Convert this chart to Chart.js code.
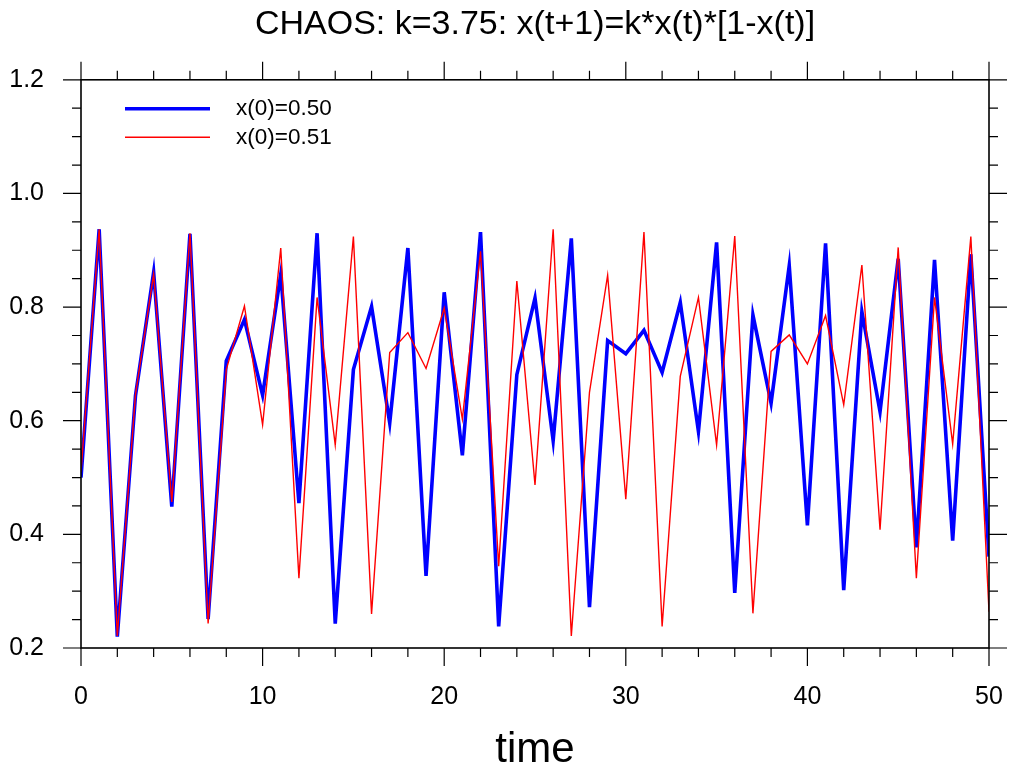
<!DOCTYPE html>
<html>
<head>
<meta charset="utf-8">
<script src="https://cdn.jsdelivr.net/npm/chart.js@4/dist/chart.umd.min.js"></script>
<style>
  body { margin: 0; background: #fff; }
  #box { width: 1016px; height: 776px; }
</style>
</head>
<body>
<div id="box"><canvas id="chaosChart"></canvas></div>
<script>
const steps = [0, 1, 2, 3, 4, 5, 6, 7, 8, 9, 10, 11, 12, 13, 14, 15, 16, 17, 18, 19, 20,
  21, 22, 23, 24, 25, 26, 27, 28, 29, 30, 31, 32, 33, 34, 35, 36, 37, 38, 39, 40,
  41, 42, 43, 44, 45, 46, 47, 48, 49, 50];

// x(0)=0.50
const xStart50 = [0.500, 0.937, 0.220, 0.644, 0.861, 0.449, 0.929, 0.251, 0.705, 0.778,
  0.645, 0.858, 0.455, 0.930, 0.243, 0.690, 0.801, 0.596, 0.904, 0.327,
  0.826, 0.539, 0.932, 0.238, 0.681, 0.816, 0.565, 0.921, 0.272, 0.741,
  0.718, 0.759, 0.685, 0.808, 0.581, 0.914, 0.297, 0.786, 0.631, 0.873,
  0.416, 0.912, 0.302, 0.792, 0.616, 0.885, 0.377, 0.883, 0.389, 0.893,
  0.361];

// x(0)=0.51
const xStart51 = [0.510, 0.937, 0.221, 0.646, 0.858, 0.457, 0.930, 0.243, 0.690, 0.802,
  0.593, 0.904, 0.323, 0.817, 0.557, 0.924, 0.260, 0.720, 0.755, 0.692,
  0.798, 0.603, 0.898, 0.344, 0.846, 0.487, 0.937, 0.221, 0.650, 0.856,
  0.462, 0.932, 0.238, 0.678, 0.817, 0.557, 0.925, 0.261, 0.722, 0.751,
  0.700, 0.785, 0.628, 0.874, 0.408, 0.905, 0.323, 0.817, 0.559, 0.924,
  0.264];

const seriesNames = ['x(0)=0.50', 'x(0)=0.51'];
const xMajor = [0, 10, 20, 30, 40, 50];
const yMajor = [0.2, 0.4, 0.6, 0.8, 1.0, 1.2];

const FONT = "'Liberation Sans', Arial, Helvetica, sans-serif";
Chart.defaults.font.family = FONT;
Chart.defaults.color = '#000';

function toPoints(ys) {
  return steps.map((t, i) => ({ x: t, y: ys[i] }));
}

// frame + outward major/minor ticks on all four sides
const frameTicks = {
  id: 'frameTicks',
  afterDatasetsDraw(chart) {
    const { ctx, chartArea: a, scales } = chart;
    const xs = scales.x, ys = scales.y;
    const major = 18, minor = 9;
    ctx.save();
    ctx.strokeStyle = '#000';
    ctx.lineWidth = 1.2;
    ctx.beginPath();
    for (let v = 0; v <= 50; v += 2) {
      const px = xs.getPixelForValue(v);
      const len = v % 10 === 0 ? major : minor;
      ctx.moveTo(px, a.bottom); ctx.lineTo(px, a.bottom + len);
      ctx.moveTo(px, a.top); ctx.lineTo(px, a.top - len);
    }
    for (let k = 0; k <= 20; k++) {
      const v = 0.2 + k * 0.05;
      const py = ys.getPixelForValue(v);
      const len = k % 4 === 0 ? major : minor;
      ctx.moveTo(a.left, py); ctx.lineTo(a.left - len, py);
      ctx.moveTo(a.right, py); ctx.lineTo(a.right + len, py);
    }
    ctx.stroke();
    ctx.lineWidth = 1.6;
    ctx.strokeRect(a.left, a.top, a.right - a.left, a.bottom - a.top);
    ctx.restore();
  }
};

// legend inside the plot, top-left
const innerLegend = {
  id: 'innerLegend',
  afterDraw(chart) {
    const { ctx, chartArea: a } = chart;
    ctx.save();
    ctx.font = '22.5px ' + FONT;
    ctx.textBaseline = 'middle';
    ctx.textAlign = 'left';
    chart.data.datasets.forEach((ds, i) => {
      const y = a.top + 29 + i * 28.5;
      ctx.strokeStyle = ds.borderColor;
      ctx.lineWidth = ds.borderWidth;
      ctx.beginPath();
      ctx.moveTo(a.left + 44, y);
      ctx.lineTo(a.left + 129, y);
      ctx.stroke();
      ctx.fillStyle = '#000';
      ctx.fillText(ds.label, a.left + 155, y);
    });
    ctx.restore();
  }
};

new Chart(document.getElementById('chaosChart'), {
  type: 'line',
  data: {
    datasets: [
      {
        label: seriesNames[0],
        data: toPoints(xStart50),
        borderColor: '#0000ff',
        borderWidth: 3.6,
        pointRadius: 0,
        tension: 0,
        order: 1
      },
      {
        label: seriesNames[1],
        data: toPoints(xStart51),
        borderColor: '#ff0000',
        borderWidth: 1.4,
        pointRadius: 0,
        tension: 0,
        order: 0
      }
    ]
  },
  options: {
    responsive: true,
    maintainAspectRatio: false,
    animation: false,
    layout: { padding: { top: 0, right: 27, bottom: 0, left: 0 } },
    plugins: {
      legend: { display: false },
      tooltip: { enabled: false },
      title: {
        display: true,
        fullSize: false,
        text: 'CHAOS: k=3.75: x(t+1)=k*x(t)*[1-x(t)]',
        font: { size: 34, weight: 'normal' },
        color: '#000',
        padding: { top: 4, bottom: 35 }
      }
    },
    scales: {
      x: {
        type: 'linear',
        min: 0,
        max: 50,
        afterBuildTicks: (s) => { s.ticks = xMajor.map(v => ({ value: v })); },
        afterFit: (s) => { s.height = 128; },
        ticks: { font: { size: 25 }, padding: 3, maxRotation: 0 },
        grid: {
          display: true,
          drawOnChartArea: false,
          drawTicks: true,
          tickLength: 31,
          tickColor: 'rgba(0,0,0,0)'
        },
        border: { display: false },
        title: {
          display: true,
          text: 'time',
          font: { size: 42 },
          padding: { top: 0, bottom: 0 }
        }
      },
      y: {
        min: 0.2,
        max: 1.2,
        afterBuildTicks: (s) => { s.ticks = yMajor.map(v => ({ value: v })); },
        afterFit: (s) => { s.width = 81; },
        ticks: {
          font: { size: 25 },
          padding: 37,
          callback: (v) => Number(v).toFixed(1)
        },
        grid: { display: false, drawTicks: false },
        border: { display: false }
      }
    }
  },
  plugins: [frameTicks, innerLegend]
});
</script>
</body>
</html>
